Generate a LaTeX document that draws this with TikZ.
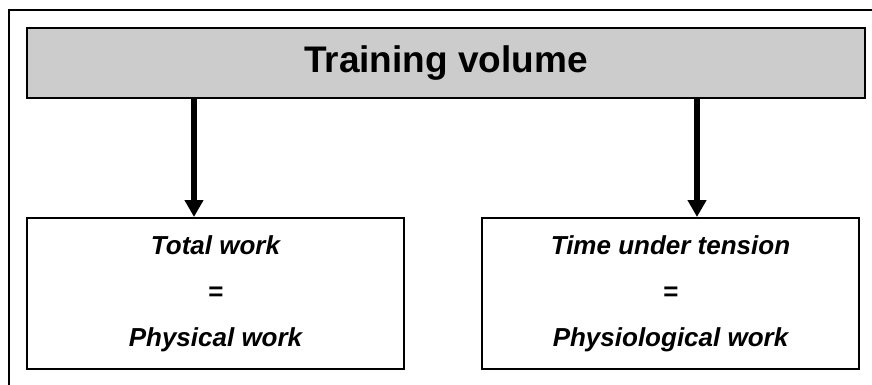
\documentclass[tikz,border=0pt]{standalone}
\usepackage{fontspec}
\setmainfont{Liberation Sans}
\usetikzlibrary{arrows.meta}
\definecolor{boxgray}{HTML}{CCCCCC}
\tikzset{
  frameline/.style={line width=2pt},
  headbox/.style={draw, fill=boxgray, line width=2.6pt, minimum width=838pt, minimum height=70pt,
    inner sep=0pt, font=\bfseries\fontsize{37}{40}\selectfont},
  leafbox/.style={draw, line width=2pt, minimum width=377pt, minimum height=151pt, inner sep=0pt,
    align=center, font=\bfseries\itshape\fontsize{26}{46}\selectfont},
  flow/.style={line width=5.5pt, -{Triangle[width=18pt,length=17pt]}}
}
\begin{document}
\begin{tikzpicture}[x=1pt,y=-1pt]
  \useasboundingbox (0,0) rectangle (872,385);
  \clip (0,0) rectangle (872,385);
  % outer frame, running off the right and bottom edges
  \draw[frameline] (9,10) rectangle (900,420);
  % heading bar
  \node[headbox] (head) at (446,63) {Training volume};
  % the two definitions
  \node[leafbox] (work) at (215.5,293.5) {Total work\\=\\Physical work};
  \node[leafbox] (tension) at (670.5,293.5) {Time under tension\\=\\Physiological work};
  % connectors
  \coordinate (c1) at (194,0);
  \coordinate (c2) at (697,0);
  \draw[flow] (head.south -| c1) -- (work.north -| c1);
  \draw[flow] (head.south -| c2) -- (tension.north -| c2);
\end{tikzpicture}
\end{document}
